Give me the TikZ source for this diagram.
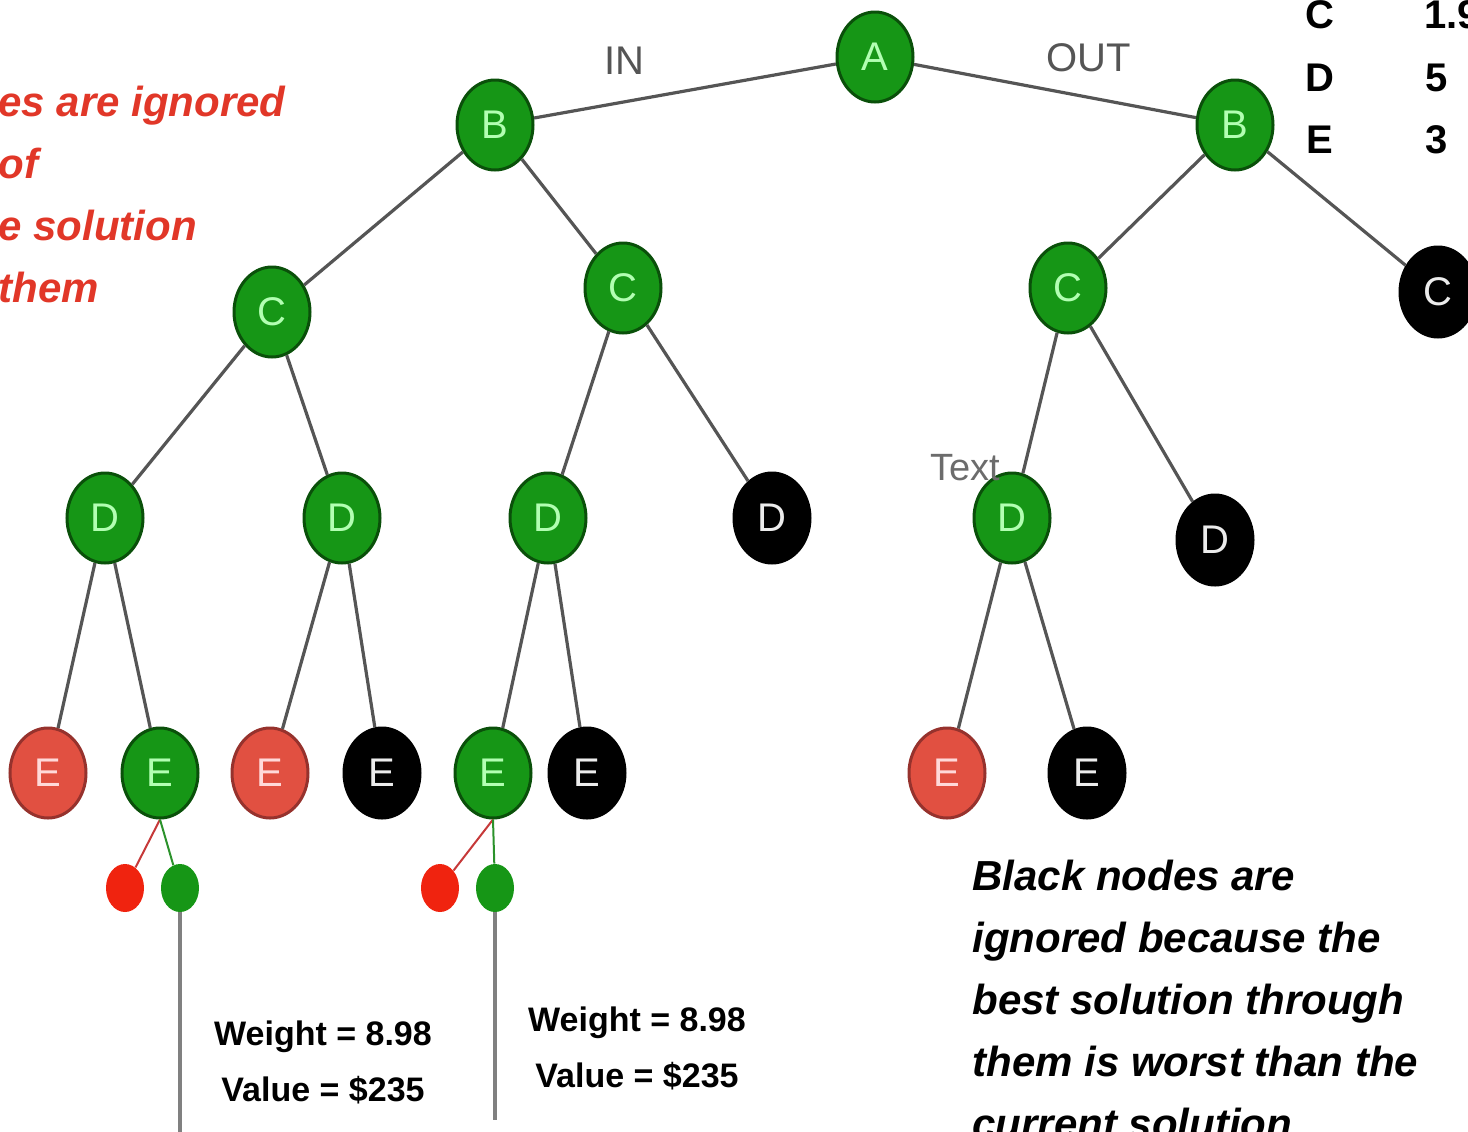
\documentclass[tikz,border=0pt]{standalone}
\usepackage{fontspec}
\setmainfont{Liberation Sans}
\usetikzlibrary{shapes.geometric}
\definecolor{livegreen}{RGB}{22,150,22}
\definecolor{darkgreen}{RGB}{10,80,10}
\definecolor{prunered}{RGB}{225,80,65}
\definecolor{darkred}{RGB}{150,50,45}
\definecolor{dotred}{RGB}{240,35,15}
\definecolor{edgegray}{RGB}{85,85,85}
\definecolor{notered}{RGB}{225,55,40}

\begin{document}
\begin{tikzpicture}[x=0.5pt,y=-0.5pt,
  vertex/.style={ellipse,minimum width=38pt,minimum height=45pt,inner sep=0pt,line width=1.5pt,font=\fontsize{20}{20}\selectfont},
  live/.style={vertex,fill=livegreen,draw=darkgreen,text=green!30!white},
  dead/.style={vertex,fill=prunered,draw=darkred,text=red!15!white},
  bound/.style={vertex,fill=black,draw=black,text=white!85!gray},
  leaf/.style={ellipse,minimum width=19pt,minimum height=24pt,inner sep=0pt},
  link/.style={draw=edgegray,line width=1.6pt},
  note/.style={inner sep=0pt,align=left,font=\fontsize{21}{31}\selectfont\bfseries\itshape},
  result/.style={inner sep=0pt,font=\fontsize{17}{28}\selectfont\bfseries},
  tbl/.style={inner sep=0pt,font=\fontsize{20}{20}\selectfont\bfseries}]
  \useasboundingbox (0,0) rectangle (1468,1131);
  \clip (0,0) rectangle (1468,1131);

  % level A, B
  \node[live] (a) at (875,57) {A};
  \node[live] (b1) at (495,125) {B};
  \node[live] (b2) at (1235,125) {B};
  % level C
  \node[live] (c1) at (272,312) {C};
  \node[live] (c2) at (623,288) {C};
  \node[live] (c3) at (1068,288) {C};
  \node[bound] (c4) at (1438,292) {C};
  % level D
  \node[live] (d1) at (105,518) {D};
  \node[live] (d2) at (342,518) {D};
  \node[live] (d3) at (548,518) {D};
  \node[bound] (d4) at (772,518) {D};
  \node[live] (d5) at (1012,518) {D};
  \node[bound] (d6) at (1215,540) {D};
  % level E
  \node[dead] (e1) at (48,773) {E};
  \node[live] (e2) at (160,773) {E};
  \node[dead] (e3) at (270,773) {E};
  \node[bound] (e4) at (382,773) {E};
  \node[live] (e5) at (493,773) {E};
  \node[bound] (e6) at (587,773) {E};
  \node[dead] (e7) at (947,773) {E};
  \node[bound] (e8) at (1087,773) {E};
  % small end points
  \node[leaf,fill=dotred] (f1) at (125,888) {};
  \node[leaf,fill=livegreen] (f2) at (180,888) {};
  \node[leaf,fill=dotred] (f3) at (440,888) {};
  \node[leaf,fill=livegreen] (f4) at (495,888) {};
  \coordinate (end1) at (180,1140);
  \coordinate (end2) at (495,1120);

  \draw[link] (a) -- node[pos=0.7,above=13pt,inner sep=0pt,text=edgegray,font=\fontsize{20}{20}\selectfont] (in) {IN} (b1);
  \draw[link] (a) -- node[pos=0.62,above=12pt,inner sep=0pt,text=edgegray,font=\fontsize{20}{20}\selectfont] (out) {OUT} (b2);
  \draw[link] (b1) -- (c1);
  \draw[link] (b1) -- (c2);
  \draw[link] (b2) -- (c3);
  \draw[link] (b2) -- (c4);
  \draw[link] (c1) -- (d1);
  \draw[link] (c1) -- (d2);
  \draw[link] (c2) -- (d3);
  \draw[link] (c2) -- (d4);
  \draw[link] (c3) -- (d5);
  \draw[link] (c3) -- (d6);
  \draw[link] (d1) -- (e1);
  \draw[link] (d1) -- (e2);
  \draw[link] (d2) -- (e3);
  \draw[link] (d2) -- (e4);
  \draw[link] (d3) -- (e5);
  \draw[link] (d3) -- (e6);
  \draw[link] (d5) -- (e7);
  \draw[link] (d5) -- (e8);
  \draw[red!55!gray,line width=1pt] (e2.south) -- (f1);
  \draw[livegreen!80!gray,line width=1pt] (e2.south) -- (f2);
  \draw[red!55!gray,line width=1pt] (e5.south) -- (f3);
  \draw[livegreen!80!gray,line width=1pt] (e5.south) -- (f4);
  \draw[draw=gray,line width=2pt] (f2) -- (end1);
  \draw[draw=gray,line width=2pt] (f4) -- (end2);

  \node[inner sep=0pt,text=gray!85!black,font=\fontsize{19}{19}\selectfont] (tag) at (965,468) {Text};

  % weight table
  \node[tbl] (kc) at (1320,15) {C};
  \node[tbl] (vc) at (1452,15) {1.9};
  \node[tbl] (kd) at (1320,78) {D};
  \node[tbl] (vd) at (1437,78) {5};
  \node[tbl] (ke) at (1320,140) {E};
  \node[tbl] (ve) at (1437,140) {3};

  % notes
  \node[note,text=notered,anchor=north west] (rednote) at (-2,86) {es are ignored\\of\\e solution\\them};
  \node[note,anchor=north west] (blacknote) at (972,860) {Black nodes are\\ignored because the\\best solution through\\them is worst than the\\current solution};
  \node[result,align=center] (res1) at (323,1062) {Weight = 8.98\\Value = \$235};
  \node[result,align=center] (res2) at (637,1048) {Weight = 8.98\\Value = \$235};
\end{tikzpicture}
\end{document}
